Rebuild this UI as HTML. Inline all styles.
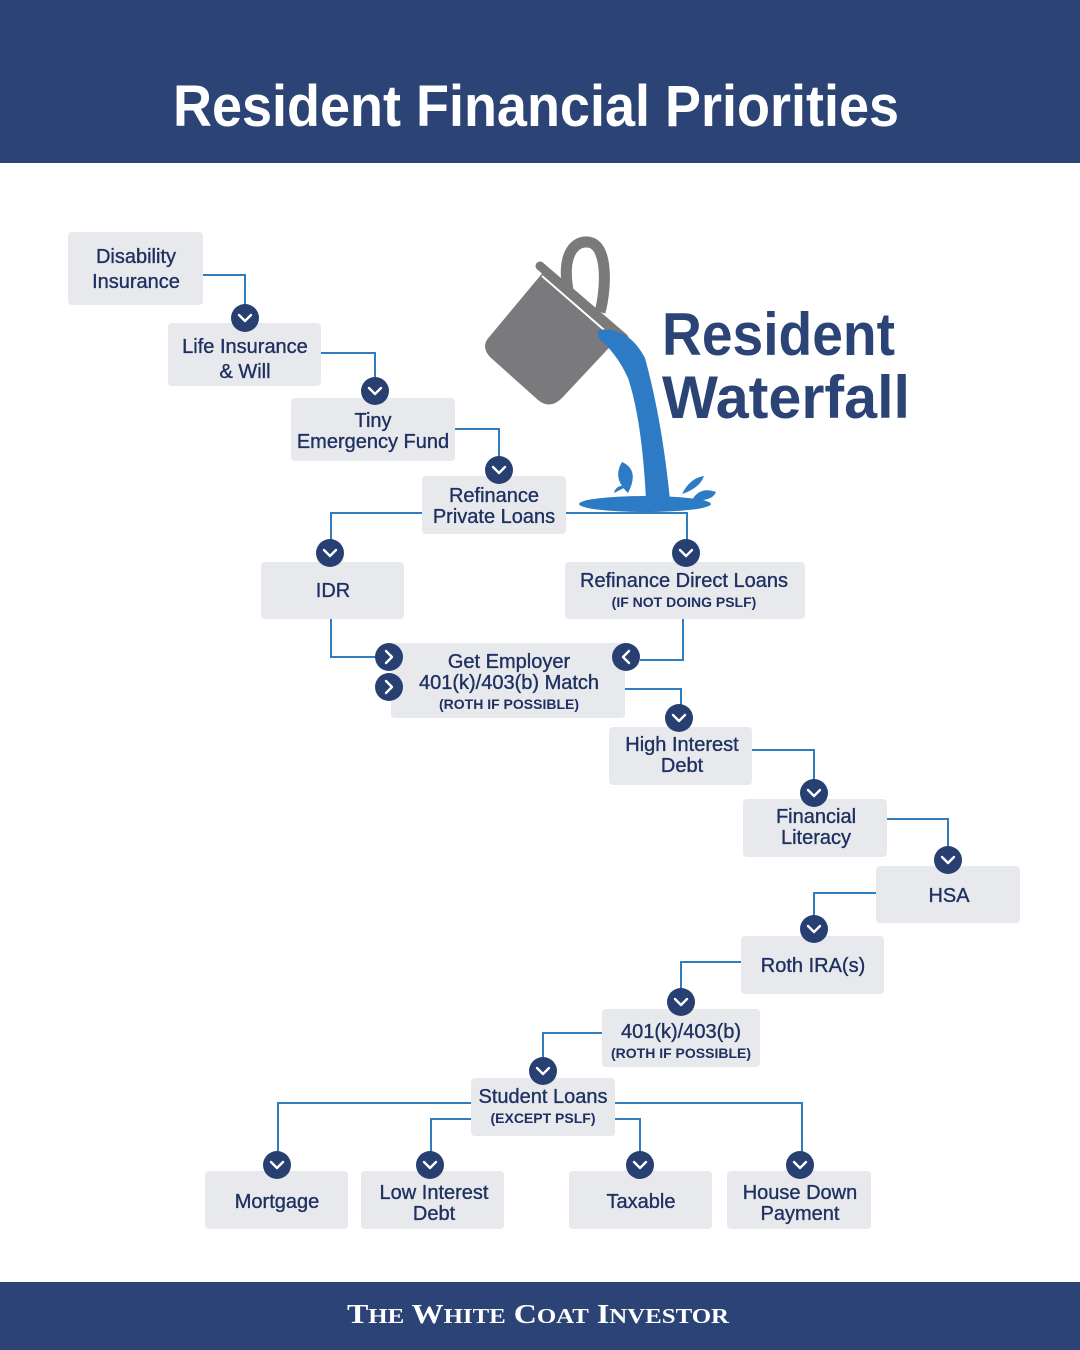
<!DOCTYPE html>
<html><head><meta charset="utf-8"><style>
html,body{margin:0;padding:0;background:#fff;}
svg{display:block;}
text{font-family:"Liberation Sans",sans-serif;}
text.serif{font-family:"Liberation Serif",serif;}
</style></head><body>
<svg width="1080" height="1350" viewBox="0 0 1080 1350" xmlns="http://www.w3.org/2000/svg">
<rect x="0" y="0" width="1080" height="163" fill="#2b4475"/>
<text x="536" y="126" text-anchor="middle" fill="#fff" font-size="58" font-weight="bold" textLength="726" lengthAdjust="spacingAndGlyphs">Resident Financial Priorities</text>
<rect x="0" y="1282" width="1080" height="68" fill="#2b4475"/>
<text class="serif" x="538" y="1323" text-anchor="middle" fill="#fff" font-weight="bold" font-size="27" textLength="382" lengthAdjust="spacingAndGlyphs">T<tspan font-size="21">HE</tspan> W<tspan font-size="21">HITE</tspan> C<tspan font-size="21">OAT</tspan> I<tspan font-size="21">NVESTOR</tspan></text>

<!-- bucket -->
<g>
<path d="M570,300 C558,250 578,238 592,243 C608,250 606,290 600,312" fill="none" stroke="#7a7a7c" stroke-width="11"/>
<path d="M545,270 L620,336 L562,398 Q550,410 538,400 L490,357 Q480,346 490,336 Z" fill="#7a7a7c"/>
<path d="M540,266 L624,338" stroke="#7a7a7c" stroke-width="9" stroke-linecap="round"/>
<path d="M542,276 L618,342" stroke="#fff" stroke-width="2"/>
<path d="M598,330 Q628,326 645,358 Q662,420 670,500 L646,500 Q642,420 628,378 Q616,352 598,338 Z" fill="#2c7bc4"/>
<ellipse cx="645" cy="504" rx="66" ry="8" fill="#2c7bc4"/>
<path d="M628,493 Q612,478 622,462 Q640,470 628,493 Z M614,493 Q616,484 628,486 Z M682,494 Q690,478 704,476 Q700,488 682,494 Z M692,500 Q700,486 716,492 Q712,502 692,500 Z" fill="#2c7bc4"/>
</g>
<text x="662" y="355" fill="#2b4475" font-size="60" font-weight="bold" textLength="233" lengthAdjust="spacingAndGlyphs">Resident</text>
<text x="662" y="418" fill="#2b4475" font-size="60" font-weight="bold" textLength="248" lengthAdjust="spacingAndGlyphs">Waterfall</text>

<!-- lines -->
<g fill="none" stroke="#2f7cc0" stroke-width="2">
<path d="M203,275 H245 V305"/>
<path d="M321,353 H375 V378"/>
<path d="M455,429 H499 V457"/>
<path d="M422,513 H331 V540"/>
<path d="M566,513 H687 V540"/>
<path d="M331,619 V657 H376"/>
<path d="M683,619 V660 H640"/>
<path d="M625,689 H681 V705"/>
<path d="M752,750 H814 V780"/>
<path d="M887,819 H948 V847"/>
<path d="M876,893 H814 V916"/>
<path d="M741,962 H681 V989"/>
<path d="M602,1033 H543 V1058"/>
<path d="M471,1103 H278 V1152"/>
<path d="M615,1103 H802 V1152"/>
<path d="M471,1119 H431 V1152"/>
<path d="M615,1119 H640 V1152"/>
</g>

<!-- boxes -->
<g fill="#e8e9ec">
<rect x="68" y="232" width="135" height="73" rx="4"/>
<rect x="168" y="323" width="153" height="63" rx="4"/>
<rect x="291" y="398" width="164" height="63" rx="4"/>
<rect x="422" y="476" width="144" height="58" rx="4"/>
<rect x="261" y="562" width="143" height="57" rx="4"/>
<rect x="565" y="562" width="240" height="57" rx="4"/>
<rect x="391" y="643" width="234" height="75" rx="4"/>
<rect x="609" y="727" width="143" height="58" rx="4"/>
<rect x="743" y="799" width="144" height="58" rx="4"/>
<rect x="876" y="866" width="144" height="57" rx="4"/>
<rect x="741" y="936" width="143" height="58" rx="4"/>
<rect x="602" y="1009" width="158" height="58" rx="4"/>
<rect x="471" y="1078" width="144" height="58" rx="4"/>
<rect x="205" y="1171" width="143" height="58" rx="4"/>
<rect x="361" y="1171" width="143" height="58" rx="4"/>
<rect x="569" y="1171" width="143" height="58" rx="4"/>
<rect x="727" y="1171" width="144" height="58" rx="4"/>
</g>

<!-- text -->
<g fill="#1f3161" font-size="20" text-anchor="middle" stroke="#1f3161" stroke-width="0.35">
<text x="136" y="263">Disability</text><text x="136" y="288">Insurance</text>
<text x="245" y="353">Life Insurance</text><text x="245" y="378">&amp; Will</text>
<text x="373" y="427">Tiny</text><text x="373" y="448">Emergency Fund</text>
<text x="494" y="502">Refinance</text><text x="494" y="523">Private Loans</text>
<text x="333" y="597">IDR</text>
<text x="684" y="587">Refinance Direct Loans</text>
<text x="684" y="607" font-size="14" font-weight="bold" stroke-width="0">(IF NOT DOING PSLF)</text>
<text x="509" y="668">Get Employer</text><text x="509" y="689">401(k)/403(b) Match</text>
<text x="509" y="709" font-size="14" font-weight="bold" stroke-width="0">(ROTH IF POSSIBLE)</text>
<text x="682" y="751">High Interest</text><text x="682" y="772">Debt</text>
<text x="816" y="823">Financial</text><text x="816" y="844">Literacy</text>
<text x="949" y="902">HSA</text>
<text x="813" y="972">Roth IRA(s)</text>
<text x="681" y="1038">401(k)/403(b)</text>
<text x="681" y="1058" font-size="14" font-weight="bold" stroke-width="0">(ROTH IF POSSIBLE)</text>
<text x="543" y="1103">Student Loans</text>
<text x="543" y="1123" font-size="14" font-weight="bold" stroke-width="0">(EXCEPT PSLF)</text>
<text x="277" y="1208">Mortgage</text>
<text x="434" y="1199">Low Interest</text><text x="434" y="1220">Debt</text>
<text x="641" y="1208">Taxable</text>
<text x="800" y="1199">House Down</text><text x="800" y="1220">Payment</text>
</g>

<!-- circles -->
<g fill="#283f72">
<circle cx="245" cy="318" r="14"/><circle cx="375" cy="391" r="14"/><circle cx="499" cy="470" r="14"/>
<circle cx="330" cy="553" r="14"/><circle cx="686" cy="553" r="14"/>
<circle cx="389" cy="657" r="14"/><circle cx="389" cy="687" r="14"/><circle cx="626" cy="657" r="14"/>
<circle cx="679" cy="718" r="14"/><circle cx="814" cy="793" r="14"/><circle cx="948" cy="860" r="14"/>
<circle cx="814" cy="929" r="14"/><circle cx="681" cy="1002" r="14"/><circle cx="543" cy="1071" r="14"/>
<circle cx="277" cy="1165" r="14"/><circle cx="430" cy="1165" r="14"/><circle cx="640" cy="1165" r="14"/><circle cx="800" cy="1165" r="14"/>
</g>
<g fill="none" stroke="#fff" stroke-width="2.4" stroke-linecap="round" stroke-linejoin="round">
<path d="M239,315 l6,6 l6,-6"/><path d="M369,388 l6,6 l6,-6"/><path d="M493,467 l6,6 l6,-6"/>
<path d="M324,550 l6,6 l6,-6"/><path d="M680,550 l6,6 l6,-6"/>
<path d="M386,651 l6,6 l-6,6"/><path d="M386,681 l6,6 l-6,6"/><path d="M629,651 l-6,6 l6,6"/>
<path d="M673,715 l6,6 l6,-6"/><path d="M808,790 l6,6 l6,-6"/><path d="M942,857 l6,6 l6,-6"/>
<path d="M808,926 l6,6 l6,-6"/><path d="M675,999 l6,6 l6,-6"/><path d="M537,1068 l6,6 l6,-6"/>
<path d="M271,1162 l6,6 l6,-6"/><path d="M424,1162 l6,6 l6,-6"/><path d="M634,1162 l6,6 l6,-6"/><path d="M794,1162 l6,6 l6,-6"/>
</g>
</svg>
</body></html>
